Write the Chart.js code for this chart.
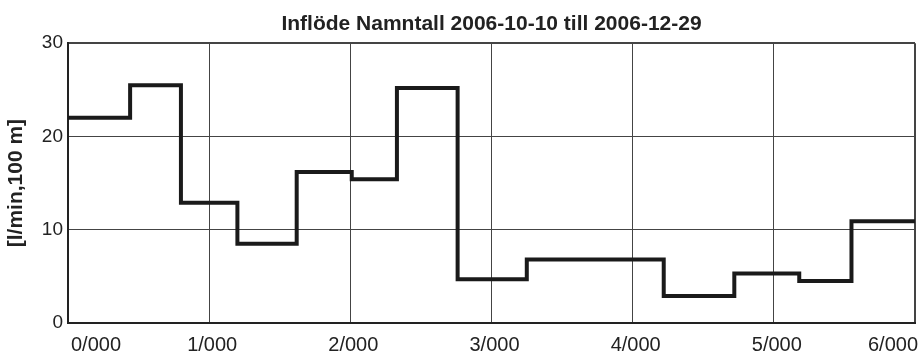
<!DOCTYPE html>
<html lang="sv">
<head>
  <meta charset="UTF-8" />
  <title>Inflöde Namntall</title>
  <script src="https://cdn.jsdelivr.net/npm/chart.js"></script>
  <style>
    * { margin: 0; padding: 0; box-sizing: border-box; }
    body { background: #fff; width: 924px; height: 354px; overflow: hidden; }
    #wrap { position: relative; width: 924px; height: 354px; }
  </style>
</head>
<body>
  <div id="wrap"><canvas id="chart"></canvas></div>

  <script>
    // section start (m) and inflow for each section, last point closes the step at 6000
    const chainage = [0, 440, 800, 1200, 1620, 2010, 2330, 2760, 3250, 4220, 4720, 5180, 5550, 6000];
    const inflow = [22, 25.5, 12.9, 8.5, 16.2, 15.4, 25.2, 4.7, 6.8, 2.9, 5.3, 4.5, 10.9, 10.9];
    const xTicks = [0, 1000, 2000, 3000, 4000, 5000, 6000];
    const yTicks = [0, 10, 20, 30];

    const titleText = 'Inflöde Namntall 2006-10-10 till 2006-12-29';
    const yTitle = '[l/min,100 m]';

    const points = chainage.map((x, i) => ({ x, y: inflow[i] }));

    const fmtChainage = v => Math.floor(v / 1000) + '/' + String(v % 1000).padStart(3, '0');

    const ink = '#222';
    const font = 'Liberation Sans, Arial, sans-serif';

    new Chart(document.getElementById('chart'), {
      type: 'line',
      data: {
        datasets: [{
          data: points,
          stepped: 'before',
          borderColor: '#1a1a1a',
          borderWidth: 4,
          pointRadius: 0,
          fill: false
        }]
      },
      options: {
        responsive: true,
        maintainAspectRatio: false,
        animation: false,
        layout: { padding: { left: 0, right: 9, top: 0, bottom: 0 } },
        plugins: {
          legend: { display: false },
          tooltip: { enabled: false },
          title: {
            display: true,
            text: titleText,
            fullSize: false,
            color: ink,
            font: { family: font, size: 21, weight: 'bold' },
            padding: { top: 12, bottom: 6 }
          }
        },
        scales: {
          x: {
            type: 'linear',
            min: 0,
            max: 6000,
            afterBuildTicks: s => { s.ticks = xTicks.map(v => ({ value: v })); },
            afterFit: s => { s.height = 31; s.paddingLeft = 0; s.paddingRight = 0; },
            ticks: {
              color: ink,
              font: { family: font, size: 20 },
              padding: 10,
              maxRotation: 0,
              align: 'inner',
              labelOffset: 3,
              callback: v => fmtChainage(v)
            },
            grid: {
              drawTicks: false,
              color: '#444',
              lineWidth: c => (c.tick && c.tick.value === 6000 ? 2 : 1)
            },
            border: { color: ink, width: 2 }
          },
          y: {
            min: 0,
            max: 30,
            afterBuildTicks: s => { s.ticks = yTicks.map(v => ({ value: v })); },
            afterFit: s => { s.width = 68; s.paddingTop = 0; s.paddingBottom = 0; },
            ticks: {
              color: ink,
              font: { family: font, size: 19 },
              padding: 5
            },
            grid: {
              drawTicks: false,
              color: '#444',
              lineWidth: c => (c.tick && c.tick.value === 30 ? 2 : 1)
            },
            border: { color: ink, width: 2 },
            title: {
              display: true,
              text: yTitle,
              color: ink,
              font: { family: font, size: 21, weight: 'bold' },
              padding: { top: 4, bottom: 0 }
            }
          }
        }
      }
    });
  </script>
</body>
</html>
